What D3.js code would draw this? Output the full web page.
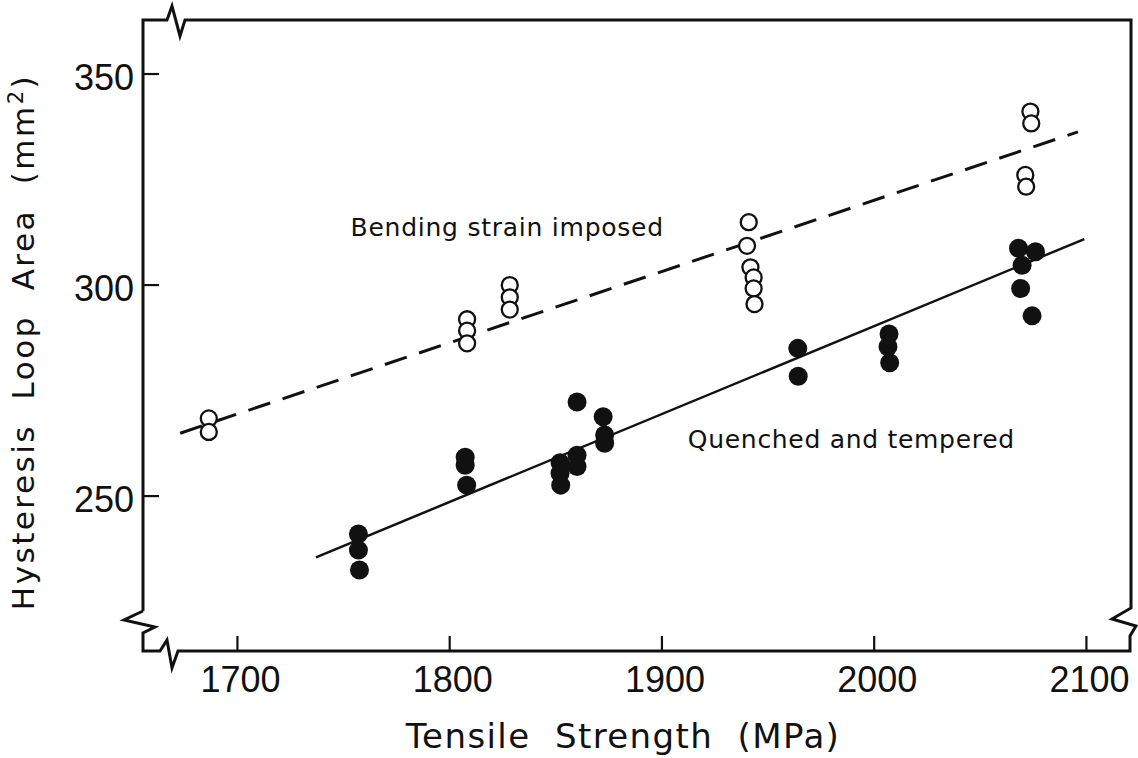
<html>
<head>
<meta charset="utf-8">
<style>
  body { margin: 0; background: #fff; }
  .tick-label { font-family: "Liberation Sans", Arial, sans-serif; font-size: 36px; fill: #111; }
  .axis-title { font-family: "DejaVu Sans", sans-serif; fill: #111; white-space: pre; }
  .note { font-family: "DejaVu Sans", sans-serif; font-size: 25px; fill: #111; }
</style>
<script src="https://cdn.jsdelivr.net/npm/d3@7"></script>
</head>
<body>
<svg id="chart" width="1138" height="758"></svg>
<script>
// tick values
var xTicks = [1700, 1800, 1900, 2000, 2100];
var yTicks = [250, 300, 350];

// quenched and tempered (filled circles)
var qtX = [1757, 1757, 1757.5, 1807.3, 1807.3, 1808, 1852, 1852, 1852.3, 1860, 1860, 1860,
           1872.3, 1873, 1873, 1964, 1964.2, 2007, 2006.5, 2007.3, 2068, 2076, 2069.7, 2069, 2074.4];
var qtY = [241, 237.2, 232.5, 259.2, 257.3, 252.6, 257.9, 255.4, 252.6, 272.3, 259.7, 257.0,
           268.8, 264.5, 262.5, 285.0, 278.4, 288.4, 285.4, 281.6, 308.7, 307.9, 304.7, 299.2, 292.7];

// bending strain imposed (open circles)
var bsX = [1686.5, 1686.5, 1808.2, 1808.2, 1808.2, 1828.3, 1828.3, 1828.3,
           1940.9, 1940.1, 1941.7, 1943.2, 1943.2, 1943.6, 2073.6, 2074.0, 2071.2, 2071.6];
var bsY = [268.4, 265.2, 291.9, 289.2, 286.2, 300.0, 297.1, 294.2,
           314.9, 309.3, 304.2, 301.8, 299.2, 295.5, 341.1, 338.3, 326.1, 323.3];

// fitted lines (end points)
var qtLineX = [1737, 2099], qtLineY = [235.5, 310.9];
var bsLineX = [1673, 2096], bsLineY = [264.9, 336.3];

var svg = d3.select("#chart");
var pL = 143, pR = 1131, pT = 20, pB = 651; // plot frame edges

var x = d3.scaleLinear().domain([1655.5, 2121]).range([pL, pR]);
var y = d3.scaleLinear().domain([213.3, 362.8]).range([pB, pT]);

// frame with break marks
var frame = d3.path();
frame.moveTo(pL, pB - 40);
frame.lineTo(pL, pT);
frame.lineTo(pL + 24, pT);
frame.lineTo(pL + 29, pT - 14);
frame.lineTo(pL + 37, pT + 16);
frame.lineTo(pL + 42, pT);
frame.lineTo(pR, pT);
frame.lineTo(pR, pB - 43);
frame.lineTo(pR - 19, pB - 32);
frame.lineTo(pR + 5, pB - 25);
frame.lineTo(pR - 1, pB - 15);
frame.lineTo(pR - 1, pB);
frame.lineTo(pL + 35, pB);
frame.lineTo(pL + 29, pB + 17);
frame.lineTo(pL + 24, pB - 11);
frame.lineTo(pL + 17, pB);
frame.lineTo(pL, pB);
frame.lineTo(pL, pB - 18);
frame.lineTo(pL + 12, pB - 24);
frame.lineTo(pL - 19, pB - 31);
frame.lineTo(pL, pB - 40);

svg.append("path")
  .attr("d", frame.toString())
  .attr("fill", "none")
  .attr("stroke", "#111")
  .attr("stroke-width", 3)
  .attr("stroke-linejoin", "miter");

// ticks
svg.selectAll("line.xtick")
  .data(xTicks)
  .enter()
  .append("line")
  .attr("class", "xtick")
  .attr("x1", function(d) { return x(d); })
  .attr("x2", function(d) { return x(d); })
  .attr("y1", pB)
  .attr("y2", pB - 15)
  .attr("stroke", "#111")
  .attr("stroke-width", 2.2);

svg.selectAll("line.ytick")
  .data(yTicks)
  .enter()
  .append("line")
  .attr("class", "ytick")
  .attr("x1", pL)
  .attr("x2", pL + 16)
  .attr("y1", function(d) { return y(d); })
  .attr("y2", function(d) { return y(d); })
  .attr("stroke", "#111")
  .attr("stroke-width", 2.2);

svg.selectAll("text.xlab")
  .data(xTicks)
  .enter()
  .append("text")
  .attr("class", "tick-label xlab")
  .attr("x", function(d) { return x(d) + 3; })
  .attr("y", pB + 41)
  .attr("text-anchor", "middle")
  .text(function(d) { return d; });

svg.selectAll("text.ylab")
  .data(yTicks)
  .enter()
  .append("text")
  .attr("class", "tick-label ylab")
  .attr("x", pL - 9)
  .attr("y", function(d) { return y(d) + 16; })
  .attr("text-anchor", "end")
  .text(function(d) { return d; });

// axis titles
svg.append("text")
  .attr("class", "axis-title")
  .attr("x", 623)
  .attr("y", 748)
  .attr("text-anchor", "middle")
  .style("font-size", "34px")
  .style("letter-spacing", "1.4px")
  .text("Tensile  Strength  (MPa)");

var yt = svg.append("text")
  .attr("class", "axis-title")
  .attr("transform", "translate(34,342) rotate(-90)")
  .attr("text-anchor", "middle")
  .style("font-size", "31px")
  .style("letter-spacing", "2.5px");
yt.append("tspan").text("Hysteresis  Loop  Area  (mm");
yt.append("tspan").attr("dy", -11).style("font-size", "21px").text("2");
yt.append("tspan").attr("dy", 11).text(")");

// fitted lines
svg.append("line")
  .attr("x1", x(bsLineX[0])).attr("y1", y(bsLineY[0]))
  .attr("x2", x(bsLineX[1])).attr("y2", y(bsLineY[1]))
  .attr("stroke", "#111")
  .attr("stroke-width", 3)
  .attr("stroke-dasharray", "23,13");

svg.append("line")
  .attr("x1", x(qtLineX[0])).attr("y1", y(qtLineY[0]))
  .attr("x2", x(qtLineX[1])).attr("y2", y(qtLineY[1]))
  .attr("stroke", "#111")
  .attr("stroke-width", 2.5);

// points
svg.selectAll("circle.bs")
  .data(d3.range(bsX.length))
  .enter()
  .append("circle")
  .attr("class", "bs")
  .attr("cx", function(i) { return x(bsX[i]); })
  .attr("cy", function(i) { return y(bsY[i]); })
  .attr("r", 8)
  .attr("fill", "#fff")
  .attr("stroke", "#111")
  .attr("stroke-width", 2.3);

svg.selectAll("circle.qt")
  .data(d3.range(qtX.length))
  .enter()
  .append("circle")
  .attr("class", "qt")
  .attr("cx", function(i) { return x(qtX[i]); })
  .attr("cy", function(i) { return y(qtY[i]); })
  .attr("r", 9.5)
  .attr("fill", "#111");

// series notes
svg.append("text")
  .attr("class", "note")
  .attr("x", x(1753.3))
  .attr("y", y(311.6))
  .style("letter-spacing", "0.75px")
  .text("Bending strain imposed");

svg.append("text")
  .attr("class", "note")
  .attr("x", x(1912.2))
  .attr("y", y(261.3))
  .style("letter-spacing", "0.7px")
  .text("Quenched and tempered");
</script>
</body>
</html>
